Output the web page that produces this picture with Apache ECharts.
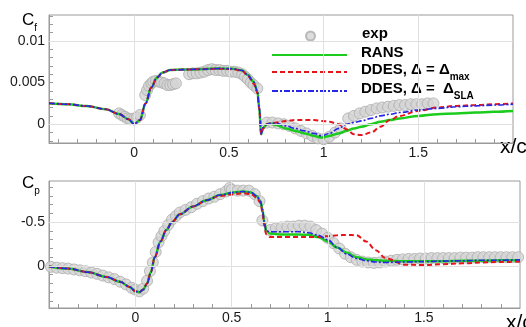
<!DOCTYPE html>
<html>
<head>
<meta charset="utf-8">
<script src="https://cdn.jsdelivr.net/npm/echarts@6.0.0/dist/echarts.min.js"></script>
<style>
  html, body { margin: 0; padding: 0; background: #fff; }
  #chart { width: 526px; height: 327px; }
</style>
</head>
<body>
<div id="chart"></div>
<script>
// ===== Cf (top panel) =====
const cfX = [-0.45, -0.35, -0.25, -0.15, -0.08, -0.03, 0.0, 0.03, 0.06, 0.09, 0.12, 0.15, 0.19, 0.25, 0.35, 0.45, 0.52, 0.57, 0.60, 0.63, 0.65, 0.66, 0.67, 0.68, 0.70,
  0.72, 0.75, 0.80, 0.85, 0.90, 0.95, 0.99, 1.03, 1.08, 1.12, 1.16, 1.20, 1.25, 1.30, 1.35, 1.40, 1.50, 1.60, 1.70, 1.80, 1.90, 2.0]
const cfRans = [0.00252, 0.0024, 0.00218, 0.0018, 0.00122, 0.0006, 0.0, 0.0005, 0.0025, 0.0044, 0.0056, 0.0062, 0.0065, 0.00655, 0.0066, 0.00668, 0.00665, 0.00645, 0.0059, 0.0051, 0.004, 0.002, -0.0012, -0.0005, 0.0,
  0.0001, -0.0001, -0.0005, -0.0008, -0.0011, -0.0014, -0.0016, -0.0014, -0.0011, -0.0008, -0.0005, -0.0003, 0.0, 0.0003, 0.0005, 0.0007, 0.001, 0.0012, 0.0013, 0.0014, 0.0015, 0.0016]
const cfDdesMax = [0.00252, 0.0024, 0.00218, 0.0018, 0.00122, 0.0006, 0.0, 0.0005, 0.0025, 0.0044, 0.0056, 0.0062, 0.0065, 0.00655, 0.0066, 0.00665, 0.0066, 0.0064, 0.0058, 0.0049, 0.0038, 0.0019, -0.0012, -0.0005, 0.0,
  0.0001, 0.0002, 0.0004, 0.0005, 0.0005, 0.0005, 0.0004, 0.0003, 0.0, -0.0006, -0.0012, -0.0013, -0.001, -0.0003, 0.0005, 0.001, 0.0016, 0.002, 0.0022, 0.0023, 0.0024, 0.0025]
const cfDdesSla = [0.00252, 0.0024, 0.00218, 0.0018, 0.00122, 0.0006, 0.0, 0.0005, 0.0025, 0.0044, 0.0056, 0.0062, 0.0065, 0.00655, 0.0066, 0.00668, 0.00665, 0.00645, 0.0059, 0.0051, 0.004, 0.002, -0.0012, -0.0004, 0.0,
  0.0001, 0.0001, -0.0002, -0.0005, -0.0008, -0.0011, -0.0014, -0.0011, -0.0005, 0.0, 0.0002, 0.0004, 0.0007, 0.001, 0.0012, 0.0014, 0.0017, 0.0019, 0.0021, 0.0022, 0.0023, 0.0024]

const cfExpX = [-0.08, -0.065, -0.05, -0.035, -0.02, 0.0, 0.015, 0.03,
  0.058, 0.068, 0.078, 0.09, 0.1, 0.115, 0.13, 0.145, 0.16, 0.175, 0.19, 0.205, 0.22,
  0.29, 0.31, 0.33, 0.35, 0.37, 0.39, 0.41, 0.43, 0.45, 0.47, 0.49, 0.51, 0.53, 0.55, 0.57, 0.585, 0.6, 0.615, 0.63, 0.65,
  0.7, 0.73, 0.76, 0.79, 0.82, 0.85, 0.88, 0.91, 0.94, 0.97, 1.0, 1.03, 1.06, 1.09,
  1.13, 1.16, 1.19, 1.22, 1.25, 1.28, 1.31, 1.34, 1.37, 1.4, 1.43, 1.46, 1.49, 1.52, 1.55, 1.58]
const cfExpY = [0.0013, 0.0011, 0.0009, 0.0007, 0.0006, 0.0007, 0.0008, 0.0011,
  0.0035, 0.0041, 0.0046, 0.0049, 0.0051, 0.0052, 0.0051, 0.005, 0.0049, 0.0047, 0.0047, 0.0048, 0.0049,
  0.006, 0.0061, 0.0061, 0.0062, 0.0063, 0.0065, 0.0066, 0.0065, 0.0065, 0.0064, 0.0064, 0.0063, 0.0063, 0.0062, 0.006, 0.0057, 0.0054, 0.005, 0.0047, 0.0043,
  0.0002, 0.0002, 0.0001, 0.0, -0.0002, -0.0005, -0.0008, -0.0011, -0.0014, -0.0017, -0.0018, -0.0015, -0.001, -0.0005,
  0.0007, 0.001, 0.0013, 0.0015, 0.0017, 0.0019, 0.002, 0.0021, 0.0022, 0.0023, 0.0023, 0.0024, 0.0024, 0.0024, 0.0025, 0.0025]

// ===== Cp (bottom panel) =====
const cpX = [-0.45, -0.35, -0.25, -0.15, -0.08, -0.03, 0.0, 0.02, 0.04, 0.06, 0.08, 0.1, 0.13, 0.16, 0.19, 0.23, 0.3, 0.37, 0.44, 0.51, 0.56, 0.6, 0.63, 0.65, 0.66, 0.67, 0.68, 0.7,
  0.75, 0.8, 0.85, 0.9, 0.95, 1.0, 1.05, 1.1, 1.15, 1.2, 1.25, 1.3, 1.4, 1.5, 1.6, 1.7, 1.8, 1.9, 2.0]
const cpRans = [0.005, 0.03, 0.07, 0.125, 0.18, 0.24, 0.29, 0.3, 0.27, 0.2, 0.07, -0.1, -0.28, -0.41, -0.5, -0.59, -0.68, -0.75, -0.81, -0.84, -0.85, -0.84, -0.8, -0.74, -0.65, -0.5, -0.4, -0.37,
  -0.36, -0.36, -0.36, -0.355, -0.33, -0.28, -0.21, -0.15, -0.1, -0.075, -0.065, -0.06, -0.055, -0.055, -0.055, -0.06, -0.06, -0.065, -0.065]
const cpDdesMax = [0.005, 0.03, 0.07, 0.125, 0.18, 0.24, 0.29, 0.3, 0.27, 0.2, 0.07, -0.1, -0.28, -0.41, -0.5, -0.59, -0.68, -0.75, -0.8, -0.82, -0.83, -0.82, -0.78, -0.72, -0.62, -0.46, -0.36, -0.33,
  -0.33, -0.33, -0.33, -0.33, -0.33, -0.34, -0.35, -0.355, -0.35, -0.28, -0.18, -0.09, -0.015, -0.01, -0.02, -0.03, -0.04, -0.045, -0.05]
const cpDdesSla = [0.005, 0.03, 0.07, 0.125, 0.18, 0.24, 0.29, 0.3, 0.27, 0.2, 0.07, -0.1, -0.28, -0.41, -0.5, -0.59, -0.68, -0.75, -0.81, -0.84, -0.85, -0.84, -0.8, -0.74, -0.65, -0.5, -0.4, -0.39,
  -0.39, -0.39, -0.39, -0.38, -0.35, -0.3, -0.21, -0.135, -0.085, -0.06, -0.045, -0.04, -0.045, -0.05, -0.055, -0.06, -0.065, -0.065, -0.07]

const cpExpX = [-0.44, -0.41, -0.38, -0.35, -0.32, -0.29, -0.26, -0.23, -0.2, -0.17, -0.14, -0.11, -0.08, -0.05, -0.02, 0.0, 0.02, 0.04, 0.06, 0.075, 0.09, 0.105, 0.12, 0.135, 0.15, 0.17, 0.19, 0.21, 0.23,
  0.26, 0.29, 0.32, 0.35, 0.38, 0.41, 0.44, 0.47, 0.49, 0.5, 0.53, 0.56, 0.59, 0.62, 0.645, 0.66,
  0.7, 0.73, 0.76, 0.79, 0.82, 0.85, 0.88, 0.91, 0.94, 0.97, 1.0, 1.03, 1.06, 1.09, 1.12, 1.15, 1.18, 1.21, 1.24, 1.27, 1.3, 1.33, 1.36, 1.39, 1.42, 1.45, 1.48, 1.51,
  1.54, 1.57, 1.6, 1.63, 1.66, 1.69, 1.72, 1.75, 1.78, 1.81, 1.84, 1.87, 1.9, 1.93, 1.96, 1.99]
const cpExpY = [0.01, 0.02, 0.025, 0.03, 0.04, 0.05, 0.06, 0.075, 0.09, 0.11, 0.13, 0.15, 0.18, 0.21, 0.25, 0.27, 0.29, 0.26, 0.17, 0.06, -0.04, -0.16, -0.27, -0.34, -0.4, -0.47, -0.53, -0.57, -0.61,
  -0.64, -0.67, -0.71, -0.74, -0.77, -0.79, -0.82, -0.85, -0.89, -0.87, -0.86, -0.86, -0.86, -0.82, -0.74, -0.52,
  -0.41, -0.43, -0.44, -0.45, -0.45, -0.46, -0.46, -0.45, -0.41, -0.37, -0.32, -0.26, -0.2, -0.14, -0.1, -0.07, -0.05, -0.04, -0.035, -0.04, -0.05, -0.06, -0.07, -0.075, -0.08, -0.08, -0.085, -0.085,
  -0.09, -0.09, -0.09, -0.09, -0.09, -0.095, -0.095, -0.095, -0.1, -0.1, -0.1, -0.1, -0.1, -0.1, -0.1, -0.1]

// ===== Ticks =====
const xTickLabels = [0, 0.5, 1, 1.5]
const xMinorTicks = [-0.4, -0.3, -0.2, -0.1, 0, 0.1, 0.2, 0.3, 0.4, 0.5, 0.6, 0.7, 0.8, 0.9, 1, 1.1, 1.2, 1.3, 1.4, 1.5, 1.6, 1.7, 1.8, 1.9]
const cfTickLabels = [0, 0.005, 0.01]
const cfMinorTicks = [-0.002, -0.001, 0, 0.001, 0.002, 0.003, 0.004, 0.005, 0.006, 0.007, 0.008, 0.009, 0.01, 0.011, 0.012, 0.013]
const cpTickLabels = [-0.5, 0]
const cpMinorTicks = [-0.9, -0.8, -0.7, -0.6, -0.5, -0.4, -0.3, -0.2, -0.1, 0, 0.1, 0.2, 0.3, 0.4]

const NAMES = ['exp', 'RANS', 'DDES max', 'DDES SLA']
const FONT = "'Liberation Sans', Arial, sans-serif"
const AXIS_COLOR = '#9a9a9a'
const GRID_COLOR = '#e0e0e0'

function zip(xs, ys) {
  return xs.map((x, i) => [x, ys[i]])
}

function xAxisCfg(gridIndex) {
  return {
    type: 'value', gridIndex, min: -0.45, max: 2,
    axisLine: { show: true, onZero: false, lineStyle: { color: AXIS_COLOR } },
    axisTick: { show: true, inside: true, length: 4, customValues: xMinorTicks, lineStyle: { color: AXIS_COLOR } },
    axisLabel: { customValues: xTickLabels, fontSize: 14, color: '#1a1a1a', fontFamily: FONT, margin: 3 },
    splitLine: { show: false },
  }
}

function yAxisCfg(gridIndex, min, max, labels, minor, inverse) {
  return {
    type: 'value', gridIndex, min, max, inverse,
    axisLine: { show: true, onZero: false, lineStyle: { color: AXIS_COLOR } },
    axisTick: { show: true, inside: true, length: 4, customValues: minor, lineStyle: { color: AXIS_COLOR } },
    axisLabel: { customValues: labels, fontSize: 14, color: '#1a1a1a', fontFamily: FONT, margin: 4 },
    splitLine: { show: false },
  }
}

// 网格线用 markLine 画（min 不是 interval 的整数倍）
function gridLines(idx, yVals) {
  return {
    type: 'line', data: [], xAxisIndex: idx, yAxisIndex: idx, z: 1, silent: true,
    markLine: {
      silent: true, symbol: 'none', animation: false,
      label: { show: false },
      lineStyle: { color: GRID_COLOR, type: 'solid', width: 1 },
      data: xTickLabels.map((v) => ({ xAxis: v })).concat(yVals.map((v) => ({ yAxis: v }))),
    },
  }
}

function expSeries(idx, data) {
  return {
    name: 'exp', type: 'scatter', xAxisIndex: idx, yAxisIndex: idx, z: 2,
    data, symbol: 'circle', symbolSize: 11,
    itemStyle: { color: '#d4d4d4', borderColor: '#ababab', borderWidth: 1 },
  }
}

function lineSeries(idx, name, data, color, width, type) {
  return {
    name, type: 'line', xAxisIndex: idx, yAxisIndex: idx, z: 3,
    data, symbol: 'none', smooth: 0.35, smoothMonotone: 'x',
    lineStyle: { color, width, type },
    itemStyle: { color },
  }
}

const rich = {
  a: { fontSize: 15, fontWeight: 'bold', fontFamily: FONT, color: '#000', lineHeight: 20, verticalAlign: 'top' },
  s: { fontSize: 10, fontWeight: 'bold', fontFamily: FONT, color: '#000', lineHeight: 10, verticalAlign: 'bottom' },
}

function legendFmt(name) {
  if (name === 'DDES max') return '{a|DDES, Δ = Δ}{s|max}'
  if (name === 'DDES SLA') return '{a|DDES, Δ =  Δ}{s|SLA}'
  return '{a|' + name + '}'
}

// 图例逐行放置，便于对齐（exp 的圆点在 75px 图标框中间，包围盒从圆点开始算）
const legendRows = [36, 55, 72, 91]
const legends = NAMES.map((name, i) => {
  const isExp = name === 'exp'
  return {
    data: [isExp ? { name, icon: 'circle' } : name],
    left: isExp ? 305 : 271, top: legendRows[i] - 10, padding: 0,
    itemWidth: 75, itemHeight: isExp ? 9 : 14,
    selectedMode: false, formatter: legendFmt,
    itemStyle: isExp ? {} : { opacity: 0 },
    textStyle: { padding: [0, 0, 0, 9], rich },
  }
})

const chart = echarts.init(document.getElementById('chart'), null, { renderer: 'canvas' })
chart.setOption({
  animation: false,
  textStyle: { fontFamily: FONT },
  grid: [
    { left: 49, top: 15, width: 464, height: 128, show: true, borderColor: AXIS_COLOR, borderWidth: 1, backgroundColor: 'transparent' },
    { left: 49, top: 181, width: 471, height: 127, show: true, borderColor: AXIS_COLOR, borderWidth: 1, backgroundColor: 'transparent' },
  ],
  legend: legends,
  xAxis: [xAxisCfg(0), xAxisCfg(1)],
  yAxis: [
    yAxisCfg(0, -0.00225, 0.0131, cfTickLabels, cfMinorTicks, false),
    yAxisCfg(1, -0.97, 0.48, cpTickLabels, cpMinorTicks, true),
  ],
  graphic: [
    { type: 'text', left: 22, top: 12, style: { text: '{c|C}{s|f}', rich: { c: { fontSize: 17, fontFamily: FONT, fill: '#000', lineHeight: 21, verticalAlign: 'top' }, s: { fontSize: 10, fontFamily: FONT, fill: '#000', lineHeight: 8, verticalAlign: 'bottom' } } } },
    { type: 'text', left: 22, top: 175, style: { text: '{c|C}{s|p}', rich: { c: { fontSize: 17, fontFamily: FONT, fill: '#000', lineHeight: 21, verticalAlign: 'top' }, s: { fontSize: 10, fontFamily: FONT, fill: '#000', lineHeight: 8, verticalAlign: 'bottom' } } } },
    { type: 'text', left: 500, top: 137, style: { text: 'x/c', font: '21px ' + FONT, fill: '#000' } },
    { type: 'text', left: 506, top: 313, style: { text: 'x/c', font: '21px ' + FONT, fill: '#000' } },
  ],
  series: [
    gridLines(0, cfTickLabels),
    gridLines(1, cpTickLabels),
    expSeries(0, zip(cfExpX, cfExpY)),
    lineSeries(0, 'RANS', zip(cfX, cfRans), '#1ccc1c', 2.5, 'solid'),
    lineSeries(0, 'DDES max', zip(cfX, cfDdesMax), '#e8141c', 2, [5, 3]),
    lineSeries(0, 'DDES SLA', zip(cfX, cfDdesSla), '#2626e6', 1.6, [6, 2, 2, 2]),
    expSeries(1, zip(cpExpX, cpExpY)),
    lineSeries(1, 'RANS', zip(cpX, cpRans), '#1ccc1c', 2.5, 'solid'),
    lineSeries(1, 'DDES max', zip(cpX, cpDdesMax), '#e8141c', 2, [5, 3]),
    lineSeries(1, 'DDES SLA', zip(cpX, cpDdesSla), '#2626e6', 1.6, [6, 2, 2, 2]),
  ],
})
</script>
</body>
</html>
